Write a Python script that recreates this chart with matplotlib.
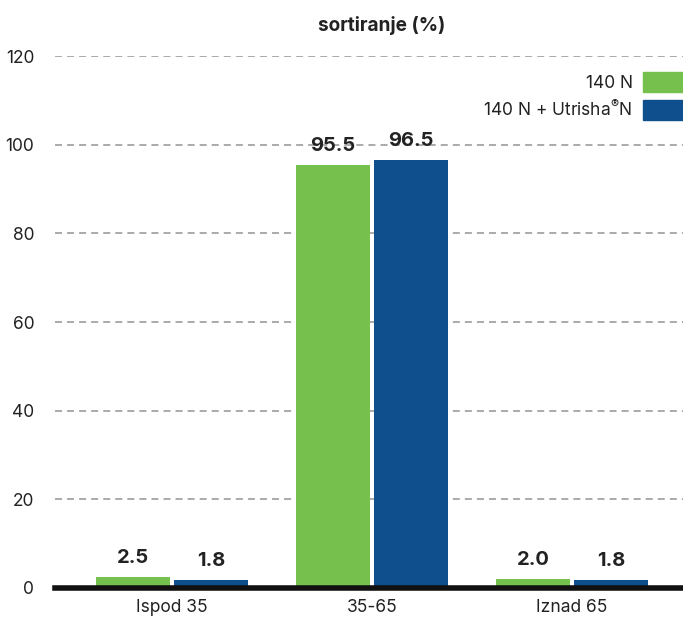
import matplotlib.pyplot as plt
from matplotlib.patches import Patch
import numpy as np

categories = ['Ispod 35', '35-65', 'Iznad 65']
series_names = ['140 N', '140 N + Utrisha$^{\\mathregular{®}}$N']
vals_140n = [2.5, 95.5, 2.0]
vals_utrisha = [1.8, 96.5, 1.8]
labels_140n = ['2.5', '95.5', '2.0']
labels_utrisha = ['1.8', '96.5', '1.8']

green = '#76C04E'
blue = '#104F8E'

plt.rcParams['font.family'] = ['Inter', 'DejaVu Sans']

fig = plt.figure(figsize=(6.83, 6.19), dpi=100)
ax = fig.add_axes([0.0805, 0.0501, 0.9195, 0.8594])

x = np.arange(len(categories))
w = 0.37
off = 0.39 / 2
b1 = ax.bar(x - off, vals_140n, w, color=green, zorder=3)
b2 = ax.bar(x + off, vals_utrisha, w, color=blue, zorder=3)

for bars, labs in ((b1, labels_140n), (b2, labels_utrisha)):
    for r, lab in zip(bars, labs):
        ax.annotate(lab, (r.get_x() + r.get_width() / 2, r.get_height()),
                    xytext=(0, 7), textcoords='offset points',
                    ha='center', va='bottom', fontsize=14.5, fontweight='bold',
                    color='#222222')

ax.set_xlim(-0.585, 2.555)
ax.set_ylim(0, 120)
ax.set_yticks(range(0, 121, 20))
ax.yaxis.grid(True, linestyle=(0, (3.6, 2.6)), color='#aaaaaa', linewidth=1.4, zorder=0)
ax.set_xticks(x)
ax.set_xticklabels(categories)
ax.tick_params(axis='both', length=0, labelsize=12.5, colors='#222222')
ax.tick_params(axis='y', pad=15)
ax.tick_params(axis='x', pad=8)
for s in ['top', 'right', 'left']:
    ax.spines[s].set_visible(False)
ax.spines['bottom'].set_linewidth(4)
ax.spines['bottom'].set_color('#111111')
ax.spines['bottom'].set_zorder(4)

ax.set_title('sortiranje (%)', fontsize=13.7, fontweight='bold', pad=18,
             color='#222222', x=0.52)

handles = [Patch(color=green), Patch(color=blue)]
leg = ax.legend(handles, series_names, loc='upper right', bbox_to_anchor=(1.0, 0.97),
                frameon=False, fontsize=12.5, markerfirst=False, handlelength=2.3,
                handleheight=1.4, handletextpad=0.6, labelspacing=0.42,
                borderaxespad=0, borderpad=0, labelcolor='#222222')

fig.savefig('out.png', dpi=100)
